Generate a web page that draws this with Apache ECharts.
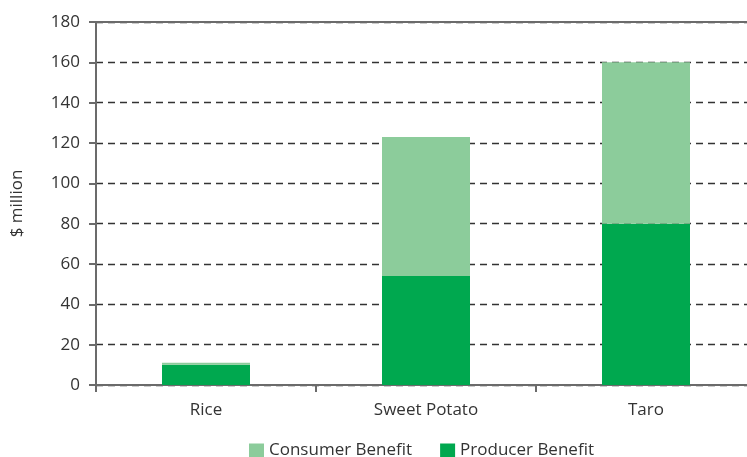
<!DOCTYPE html>
<html>
<head>
<meta charset="utf-8">
<script src="https://cdn.jsdelivr.net/npm/echarts@6/dist/echarts.min.js"></script>
<style>
  html, body { margin: 0; padding: 0; background: #fff; }
  #chart { width: 747px; height: 457px; }
</style>
</head>
<body>
<div id="chart"></div>
<script>
const categories = ['Rice', 'Sweet Potato', 'Taro']
const producerBenefit = [10, 54, 80]
const consumerBenefit = [1, 69, 80]

const font = '"Open Sans", "Noto Sans", sans-serif'
const axisGrey = '#6b6b6b'
const textColor = '#333333'

const chart = echarts.init(document.getElementById('chart'))
chart.setOption({
  animation: false,
  textStyle: { fontFamily: font, color: textColor },
  grid: { left: 96, top: 22, bottom: 72, width: 660, outerBoundsMode: 'none' },
  legend: {
    top: 437,
    left: 244,
    itemWidth: 15,
    itemHeight: 14,
    itemGap: 28,
    icon: 'rect',
    textStyle: { fontSize: 17, color: textColor, fontFamily: font },
    data: ['Consumer Benefit', 'Producer Benefit'],
  },
  xAxis: [
    {
      type: 'category',
      data: categories,
      axisLine: { lineStyle: { color: axisGrey, width: 2 } },
      axisTick: { show: true, length: 7, lineStyle: { color: axisGrey, width: 2 } },
      axisLabel: { fontSize: 17, color: textColor, margin: 17 },
    },
    {
      type: 'category',
      position: 'top',
      data: categories,
      axisLine: { lineStyle: { color: axisGrey, width: 2 } },
      axisTick: { show: false },
      axisLabel: { show: false },
    },
  ],
  yAxis: {
    type: 'value',
    min: 0,
    max: 180,
    interval: 20,
    name: '$ million',
    nameLocation: 'middle',
    nameGap: 70,
    nameTextStyle: { fontSize: 17, color: textColor, fontFamily: font },
    axisLine: { show: true, lineStyle: { color: axisGrey, width: 2 } },
    axisTick: { show: true, length: 7, lineStyle: { color: axisGrey, width: 2 } },
    axisLabel: { fontSize: 17, color: textColor, margin: 16 },
    splitLine: {
      lineStyle: { color: '#333333', type: [7, 5], width: 1.3 },
    },
  },
  series: [
    {
      name: 'Producer Benefit',
      type: 'bar',
      stack: 'total',
      barWidth: 88,
      itemStyle: { color: '#00a84f' },
      data: producerBenefit,
    },
    {
      name: 'Consumer Benefit',
      type: 'bar',
      stack: 'total',
      barWidth: 88,
      itemStyle: { color: '#8ccc9b' },
      data: consumerBenefit,
    },
  ],
})
</script>
</body>
</html>
